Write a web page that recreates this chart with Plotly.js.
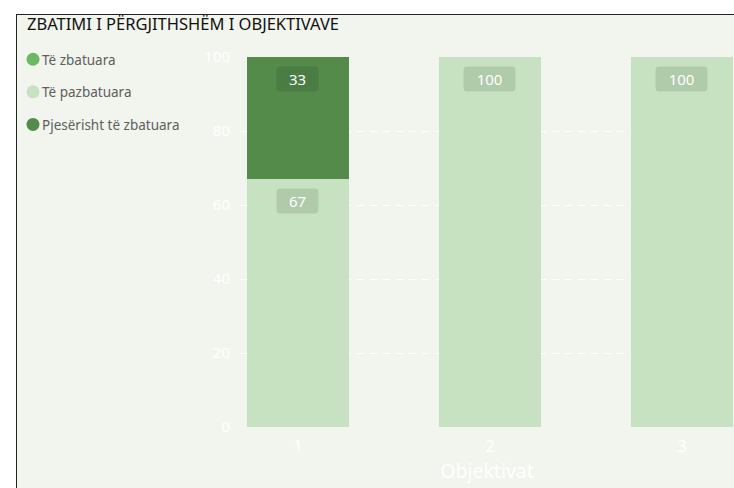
<!DOCTYPE html>
<html>
<head>
<meta charset="utf-8">
<script src="https://cdn.plot.ly/plotly-3.0.1.min.js"></script>
<style>
html,body{margin:0;padding:0;background:#ffffff;overflow:hidden;width:734px;height:488px;}
#frame{position:absolute;left:16px;top:14px;width:800px;height:600px;background:#f1f5ee;border:1px solid #222;}
#chart{position:absolute;left:0;top:0;width:734px;height:488px;}
</style>
</head>
<body>
<div id="frame"></div>
<div id="chart"></div>
<script>
const categories = [1, 2, 3];
const zbatuara = [0, 0, 0];
const pazbatuara = [67, 100, 100];
const pjeserisht = [33, 0, 0];
const seriesNames = ["Të zbatuara", "Të pazbatuara", "Pjesërisht të zbatuara"];
const seriesColors = ["#6db862", "#c6e2c1", "#548a4a"];
const labelBg = ["#5ea453", "#b0cbaa", "#4b7c43"];
const yTicks = [0, 20, 40, 60, 80, 100];

const values = [zbatuara, pazbatuara, pjeserisht];
const traces = [];
const stackOrder = [1, 0, 2];
stackOrder.forEach(i => {
  traces.push({
    type: 'bar', x: categories, y: values[i], name: seriesNames[i],
    marker: {color: seriesColors[i]}, width: 0.531, showlegend: false,
    hoverinfo: 'skip'
  });
});
[0, 1, 2].forEach(i => {
  traces.push({
    type: 'scatter', mode: 'markers', x: [null], y: [null], name: seriesNames[i],
    marker: {color: seriesColors[i], size: 13, symbol: 'circle'},
    legendgroup: 'g' + i, showlegend: true
  });
});

const annotations = [];
categories.forEach((c, k) => {
  let base = 0;
  stackOrder.forEach(i => {
    const v = values[i][k];
    if (v > 0) {
      const txt = String(v);
      annotations.push({
        x: c, y: base + v, xref: 'x', yref: 'y', text: txt,
        showarrow: false, yanchor: 'top', yshift: -9,
        width: 13 + 10 * txt.length, height: 16,
        font: {family: 'Noto Sans, sans-serif', size: 15, color: '#ffffff'},
        bgcolor: labelBg[i], borderpad: 4
      });
    }
    base += v;
  });
});

const layout = {
  width: 734, height: 488,
  paper_bgcolor: 'rgba(0,0,0,0)', plot_bgcolor: 'rgba(0,0,0,0)',
  margin: {l: 240, r: 0, t: 57, b: 61},
  barmode: 'stack', bargap: 0,
  showlegend: true,
  title: {text: 'ZBATIMI I PËRGJITHSHËM I OBJEKTIVAVE', x: 27/734, xanchor: 'left', y: 1 - 24/488, yanchor: 'middle',
          font: {family: 'Noto Sans, sans-serif', size: 16.5, color: '#111111'}},
  legend: {x: -227/494, xanchor: 'left', y: 1 + 13/370, yanchor: 'top', yref: 'paper',
           font: {family: 'Noto Sans, sans-serif', size: 13.5, color: '#605e5c'},
           bgcolor: 'rgba(0,0,0,0)', tracegroupgap: 12, itemwidth: 30,
           traceorder: 'grouped'},
  xaxis: {range: [0.698, 3.271], tickvals: categories, ticktext: categories.map(String),
          showgrid: false, zeroline: false, showline: false, ticklabelstandoff: 8,
          tickfont: {family: 'Noto Sans, sans-serif', size: 16, color: '#ffffff'},
          title: {text: 'Objektivat', standoff: 7, font: {family: 'Noto Sans, sans-serif', size: 19.5, color: '#ffffff'}}},
  yaxis: {range: [0, 100], tickvals: yTicks, showgrid: true, gridcolor: '#ffffff', griddash: '7px,6px', gridwidth: 1,
          zeroline: false, showline: false, ticklabelstandoff: 9,
          tickfont: {family: 'Noto Sans, sans-serif', size: 15, color: '#ffffff'}},
  annotations: annotations
};

Plotly.newPlot('chart', traces, layout, {displayModeBar: false, staticPlot: true}).then(gd => {
  // rounded label boxes
  gd.querySelectorAll('.annotation-text-g rect.bg').forEach(r => { r.setAttribute('rx', 4); r.setAttribute('ry', 4); });
  // tighter gap between legend marker and text
  gd.querySelectorAll('.legend .legendtext').forEach(t => {
    const x = parseFloat(t.getAttribute('x')) || 40;
    t.setAttribute('x', x - 11);
  });
});
</script>
</body>
</html>
